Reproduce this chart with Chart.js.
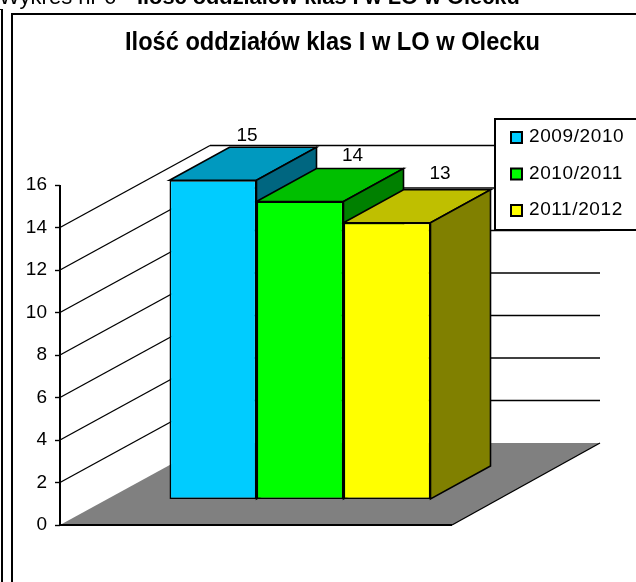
<!DOCTYPE html>
<html><head><meta charset="utf-8">
<style>
html,body{margin:0;padding:0;background:#fff;overflow:hidden}
#wrap{position:absolute;left:0;top:0;width:636px;height:582px}
</style>
<script src="https://cdn.jsdelivr.net/npm/chart.js@4"></script>
</head><body>
<div id="wrap"><canvas id="c" width="636" height="582"></canvas></div>
<script>
const categories = [""];
const seriesNames = ["2009/2010", "2010/2011", "2011/2012"];
const seriesValues = [[15], [14], [13]];
const faceColors = ["#00CCFF", "#00FF00", "#FFFF00"];
const topColors = ["#0099BF", "#00BF00", "#BFBF00"];
const sideColors = ["#006680", "#008000", "#808000"];
const tickValues = [0, 2, 4, 6, 8, 10, 12, 14, 16];
const backLineValues = [0, 2, 4, 6, 8, 10, 12, 14];
const headingPrefix = "Wykres nr 6 - ";
const chartTitle = "Ilość oddziałów klas I w LO w Olecku";

const FONT = '"Liberation Sans", Arial, sans-serif';
const DEPTH = {x: 150, y: 82};
const BAR_DEPTH = {x: 60, y: 33};
const FLOOR_RIGHT = 452;
const LABEL_NUDGE = [[34, -44], [52.5, -46], [53, -49]];

function poly(ctx, pts, fill, stroke) {
  ctx.beginPath();
  pts.forEach((p, i) => i ? ctx.lineTo(p[0], p[1]) : ctx.moveTo(p[0], p[1]));
  ctx.closePath();
  if (fill) { ctx.fillStyle = fill; ctx.fill(); }
  if (stroke) { ctx.strokeStyle = stroke; ctx.lineWidth = 1.6; ctx.lineJoin = 'miter'; ctx.stroke(); }
}
function line(ctx, x1, y1, x2, y2, w) {
  ctx.beginPath(); ctx.moveTo(x1, y1); ctx.lineTo(x2, y2);
  ctx.strokeStyle = '#000'; ctx.lineWidth = w || 1.4; ctx.stroke();
}

const scene3d = {
  id: 'scene3d',
  afterLayout(chart) {
    chart.titleBlock.left = 125;
  },
  beforeDatasetsDraw(chart) {
    const ctx = chart.ctx, y = chart.scales.y;
    const x0 = chart.chartArea.left, y0 = y.getPixelForValue(0);
    ctx.save();
    // page frame
    ctx.fillStyle = '#000';
    ctx.fillRect(1, 9, 2, 573);
    ctx.fillRect(0, 9, 3, 1);
    ctx.fillRect(11, 13, 2, 569);
    ctx.fillRect(11, 13, 625, 2);
    ctx.textAlign = 'left'; ctx.textBaseline = 'alphabetic';
    ctx.font = '22px ' + FONT;
    ctx.fillText(headingPrefix, -1, 4);
    ctx.font = 'bold 21.8px ' + FONT;
    ctx.fillText(chartTitle, 137, 4);
    // floor
    poly(ctx, [[x0, y0], [FLOOR_RIGHT, y0], [FLOOR_RIGHT + DEPTH.x - 2, y0 - DEPTH.y], [x0 + DEPTH.x, y0 - DEPTH.y]], '#808080');
    line(ctx, FLOOR_RIGHT, y0, FLOOR_RIGHT + DEPTH.x - 2, y0 - DEPTH.y);
    // wall and back grid lines
    backLineValues.forEach(v => {
      const py = y.getPixelForValue(v);
      if (v > 0) {
        line(ctx, x0, py, x0 + DEPTH.x, py - DEPTH.y);
        line(ctx, x0 + DEPTH.x, py - DEPTH.y, FLOOR_RIGHT + DEPTH.x - 2, py - DEPTH.y);
      }
    });
    // axis lines
    line(ctx, x0, y.getPixelForValue(16), x0, y0, 2);
    line(ctx, x0, y0, FLOOR_RIGHT, y0, 2);
    // bar tops and sides
    chart.data.datasets.forEach((ds, i) => {
      chart.getDatasetMeta(i).data.forEach(b => {
        const l = b.x - b.width / 2, r = b.x + b.width / 2, t = b.y, bt = b.base;
        const dx = BAR_DEPTH.x, dy = BAR_DEPTH.y;
        poly(ctx, [[l, t], [r, t], [r + dx, t - dy], [l + dx, t - dy]], topColors[i], '#000');
        poly(ctx, [[r, t], [r + dx, t - dy], [r + dx, bt - dy], [r, bt]], sideColors[i], '#000');
      });
    });
    ctx.restore();
  },
  afterDatasetsDraw(chart) {
    const ctx = chart.ctx;
    ctx.save();
    // value labels
    ctx.fillStyle = '#000';
    ctx.font = '19px ' + FONT;
    ctx.textAlign = 'center'; ctx.textBaseline = 'middle';
    chart.data.datasets.forEach((ds, i) => {
      chart.getDatasetMeta(i).data.forEach((b, j) => {
        ctx.fillText(String(ds.data[j]), b.x + LABEL_NUDGE[i][0], b.y + LABEL_NUDGE[i][1]);
      });
    });
    // legend
    ctx.fillStyle = '#fff';
    ctx.fillRect(495, 119, 141, 111);
    ctx.fillStyle = '#000';
    ctx.fillRect(494, 118, 142, 2);
    ctx.fillRect(494, 118, 2, 113);
    ctx.fillRect(494, 229, 142, 2);
    ctx.textAlign = 'left';
    ctx.letterSpacing = '0.6px';
    chart.data.datasets.forEach((ds, i) => {
      const cy = 137 + i * 36.5;
      ctx.fillStyle = '#000';
      ctx.fillRect(510, cy - 6, 13, 13);
      ctx.fillStyle = faceColors[i];
      ctx.fillRect(512, cy - 4, 9, 9);
      ctx.fillStyle = '#000';
      ctx.fillText(ds.label, 529, cy);
    });
    ctx.restore();
  }
};

new Chart(document.getElementById('c'), {
  type: 'bar',
  plugins: [scene3d],
  data: {
    labels: categories,
    datasets: seriesNames.map((n, i) => ({
      label: n,
      data: seriesValues[i],
      yAxisID: 'bars',
      backgroundColor: faceColors[i],
      borderColor: '#000',
      borderWidth: 1.6,
      borderSkipped: false,
      barPercentage: 1,
      categoryPercentage: 0.54375
    }))
  },
  options: {
    responsive: false,
    animation: false,
    layout: {padding: {left: 0, right: 96, top: 0, bottom: 57}},
    plugins: {
      legend: {display: false},
      tooltip: {enabled: false},
      title: {
        display: true, text: chartTitle, color: '#000', align: 'start',
        font: {family: FONT, size: 25, weight: 'bold', lineHeight: 1.2},
        padding: {top: 28, bottom: 42}, fullSize: true
      }
    },
    scales: {
      x: {display: false},
      y: {
        position: 'left', min: 0, max: 20,
        afterFit(s) { s.width = 60; },
        afterBuildTicks(s) { s.ticks = tickValues.map(v => ({value: v})); },
        border: {display: false},
        grid: {drawOnChartArea: false, tickLength: 5, tickColor: '#000', tickWidth: 1.4},
        ticks: {color: '#000', padding: 8, font: {family: FONT, size: 19}, autoSkip: false}
      },
      bars: {
        display: false, min: -1.2235, max: 18.7765
      }
    }
  }
});
</script>
</body></html>
